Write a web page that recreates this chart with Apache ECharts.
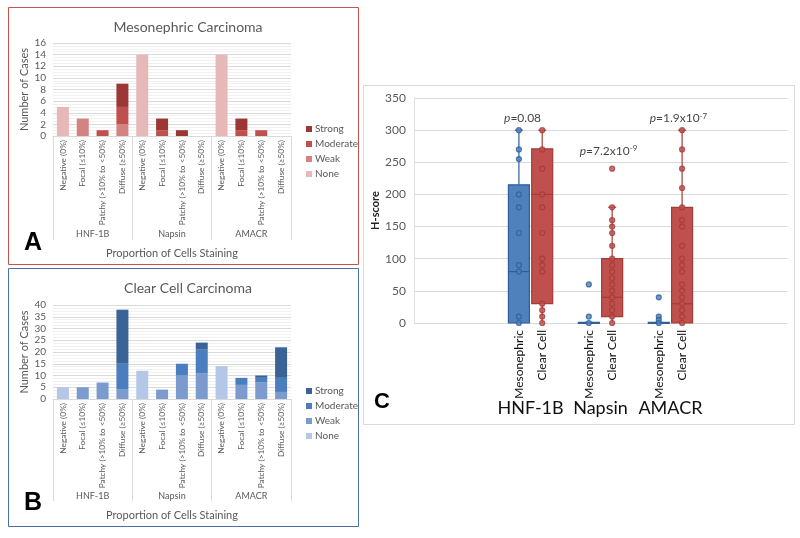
<!DOCTYPE html>
<html><head><meta charset="utf-8">
<script src="https://cdn.jsdelivr.net/npm/echarts@6/dist/echarts.min.js"></script>
<style>html,body{margin:0;padding:0;background:#fff}#c{width:800px;height:538px}</style>
</head><body><div id="c"></div><script>
// ---------- DATA ----------
const categories = ['Negative (0%)', 'Focal (≤10%)', 'Patchy (>10% to <50%)', 'Diffuse (≥50%)'];
const markers = ['HNF-1B', 'Napsin', 'AMACR'];
const levels = ['Strong', 'Moderate', 'Weak', 'None'];
const yTicksA = [0, 16, 2];   // min, max, step
const yTicksB = [0, 40, 5];
const yTicksC = [0, 350, 50];

// Panel A – Mesonephric carcinoma (12 bars: 3 markers x 4 categories)
const mesoNone     = [5, 0, 0, 0,  14, 0, 0, 0,  14, 0, 0, 0];
const mesoWeak     = [0, 3, 0, 2,   0, 0, 0, 0,   0, 0, 0, 0];
const mesoModerate = [0, 0, 1, 3,   0, 1, 0, 0,   0, 1, 1, 0];
const mesoStrong   = [0, 0, 0, 4,   0, 2, 1, 0,   0, 2, 0, 0];

// Panel B – Clear cell carcinoma
const ccNone     = [5, 0, 0, 0,  12, 0, 0, 0,  14, 0, 0, 0];
const ccWeak     = [0, 5, 7, 4,   0, 4, 10, 11,  0, 6, 7, 3];
const ccModerate = [0, 0, 0, 11,  0, 0, 5, 10,   0, 3, 2, 6];
const ccStrong   = [0, 0, 0, 23,  0, 0, 0, 3,    0, 0, 1, 13];

// Panel C – H-score box plots
const boxLabels = ['Mesonephric', 'Clear Cell'];
const boxSlots = [4, 5, 7, 8, 10, 11];      // category slots (of 16) used by the boxes
const slotCount = 16;
// [min, Q1, median, Q3, max]
const boxStats = [
  [0, 0, 80, 215, 300],
  [0, 30, 200, 271, 300],
  [0, 0, 0, 1, 1],
  [0, 10, 40, 100, 180],
  [0, 0, 0, 1, 1],
  [0, 0, 30, 180, 300]
];
const hnfMesoPts = [300, 270, 255, 200, 180, 140, 90, 80, 10, 0];
const hnfCcPts   = [300, 270, 240, 200, 180, 140, 100, 90, 80, 30, 20, 10, 0];
const napMesoPts = [60, 10, 0];
const napCcPts   = [240, 180, 160, 150, 140, 120, 100, 90, 80, 70, 60, 50, 40, 30, 20, 10, 0];
const amaMesoPts = [40, 10, 5, 0];
const amaCcPts   = [300, 270, 240, 210, 180, 160, 150, 120, 100, 90, 80, 60, 50, 40, 30, 20, 10, 0];
const pMantissa = ['0.08', '7.2x10', '1.9x10'];
const pExponent = ['', '-9', '-7'];
const pHeights  = [318, 268, 318];

// ---------- STYLE ----------
const FONT = 'Lato, "Open Sans", sans-serif';
const grey = '#595959';
const redCols  = { Strong: '#9b3735', Moderate: '#c0504d', Weak: '#d38381', None: '#e6b9b8' };
const blueCols = { Strong: '#3a6397', Moderate: '#4a7ebf', Weak: '#7b9bcf', None: '#b4c7e7' };
const boxFill = ['#4f81bd', '#c0504d'];
const boxLine = ['#2f5f9a', '#a33b38'];

const chart = echarts.init(document.getElementById('c'), null, { renderer: 'canvas' });

const catLabels12 = [].concat(categories, categories, categories);

function barPanelAxes(grid, tickLen, groupMargin) {
  return [
    { gridIndex: grid, type: 'category', data: catLabels12, position: 'bottom',
      axisLine: { lineStyle: { color: '#d9d9d9' } }, axisTick: { show: false },
      axisLabel: { interval: 0, rotate: 90, fontSize: 8.3, color: grey, margin: 4, fontFamily: FONT } },
    { gridIndex: grid, type: 'category', data: markers, position: 'bottom',
      axisLine: { show: false },
      axisTick: { show: true, length: tickLen, lineStyle: { color: '#d9d9d9' } },
      axisLabel: { fontSize: 9, color: grey, margin: groupMargin, fontFamily: FONT } ,
      name: 'Proportion of Cells Staining', nameLocation: 'middle', nameGap: groupMargin + 18,
      nameTextStyle: { fontSize: 11, color: grey, fontFamily: FONT } }
  ];
}
function barY(grid, t) {
  return { gridIndex: grid, type: 'value', min: t[0], max: t[1], interval: t[2],
    axisLabel: { fontSize: 10, color: grey, fontFamily: FONT, margin: 7 },
    axisLine: { show: false }, axisTick: { show: false },
    splitLine: { lineStyle: { color: '#d9d9d9' } },
    minorTick: { show: false, splitNumber: 4 },
    minorSplitLine: { show: true, lineStyle: { color: '#f1f1f1' } },
    name: 'Number of Cases', nameLocation: 'middle', nameGap: 23,
    nameTextStyle: { fontSize: 11, color: grey, fontFamily: FONT } };
}
function stackSeries(prefix, stack, xi, yi, arrs, cols) {
  const order = ['None', 'Weak', 'Moderate', 'Strong'];
  return order.map(l => ({
    name: prefix + l, type: 'bar', stack: stack, xAxisIndex: xi, yAxisIndex: yi,
    barWidth: 12, data: arrs[l], itemStyle: { color: cols[l] }, silent: true
  }));
}

// Panel C axes data
const cLabels = new Array(slotCount).fill('');
boxSlots.forEach((s, i) => { cLabels[s] = boxLabels[i % 2]; });
const groupPos = {};
markers.forEach((m, i) => { groupPos[(boxSlots[2 * i] + boxSlots[2 * i + 1] + 1) / 2] = m; });

const boxData = boxSlots.map((s, i) => [s].concat(boxStats[i]));
function ptsFor(slot, arr) { return arr.map(v => [slot, v]); }
const mesoPts = [].concat(ptsFor(boxSlots[0], hnfMesoPts), ptsFor(boxSlots[2], napMesoPts), ptsFor(boxSlots[4], amaMesoPts));
const ccPts = [].concat(ptsFor(boxSlots[1], hnfCcPts), ptsFor(boxSlots[3], napCcPts), ptsFor(boxSlots[5], amaCcPts));
const pLabelOffsets = [[-8, 0], [8, 0], [8, 0]];
const pData = markers.map((m, i) => ({
  value: [(boxSlots[2 * i] + boxSlots[2 * i + 1] + 1) / 2, pHeights[i]],
  label: { offset: pLabelOffsets[i],
    formatter: '{i|p}{n|=' + pMantissa[i] + '}' + (pExponent[i] ? '{s|' + pExponent[i] + '}' : '') }
}));

function renderBox(params, api) {
  const x = api.value(0);
  const pMin = api.coord([x, api.value(1)]);
  const pQ1 = api.coord([x, api.value(2)]);
  const pMed = api.coord([x, api.value(3)]);
  const pQ3 = api.coord([x, api.value(4)]);
  const pMax = api.coord([x, api.value(5)]);
  const w = api.size([1, 0])[0] * 0.9;
  const k = params.dataIndex % 2;
  const cx = pQ1[0];
  const ls = { stroke: boxLine[k], lineWidth: 1.2 };
  const cap = 4;
  return { type: 'group', children: [
    { type: 'line', shape: { x1: cx, y1: pQ3[1], x2: cx, y2: pMax[1] }, style: ls },
    { type: 'line', shape: { x1: cx - cap, y1: pMax[1], x2: cx + cap, y2: pMax[1] }, style: ls },
    { type: 'line', shape: { x1: cx, y1: pQ1[1], x2: cx, y2: pMin[1] }, style: ls },
    { type: 'rect', shape: { x: cx - w / 2, y: pQ3[1], width: w, height: Math.max(1, pQ1[1] - pQ3[1]) },
      style: { fill: boxFill[k], stroke: boxLine[k], lineWidth: 1.2 } },
    { type: 'line', shape: { x1: cx - w / 2, y1: pMed[1], x2: cx + w / 2, y2: pMed[1] }, style: ls }
  ] };
}

const option = {
  backgroundColor: '#fff',
  animation: false,
  textStyle: { fontFamily: FONT },
  title: [
    { text: 'Mesonephric Carcinoma', left: 183, top: 15, textAlign: 'center',
      textStyle: { fontSize: 14, fontWeight: 'normal', color: grey, fontFamily: FONT } },
    { text: 'Clear Cell Carcinoma', left: 183, top: 276, textAlign: 'center',
      textStyle: { fontSize: 14, fontWeight: 'normal', color: grey, fontFamily: FONT } }
  ],
  legend: [
    { data: levels.map(l => 'A_' + l), orient: 'vertical', left: 301, top: 119, icon: 'rect',
      itemWidth: 6, itemHeight: 6, itemGap: 5, formatter: n => n.slice(2), selectedMode: false,
      textStyle: { fontSize: 10, color: grey, fontFamily: FONT, padding: [0, 0, 0, -2] } },
    { data: levels.map(l => 'B_' + l), orient: 'vertical', left: 301, top: 381, icon: 'rect',
      itemWidth: 6, itemHeight: 6, itemGap: 5, formatter: n => n.slice(2), selectedMode: false,
      textStyle: { fontSize: 10, color: grey, fontFamily: FONT, padding: [0, 0, 0, -2] } }
  ],
  grid: [
    { left: 53, top: 43, width: 238, height: 93 },
    { left: 53, top: 305, width: 238, height: 94 },
    { left: 414, top: 98, width: 373, height: 225 }
  ],
  xAxis: [].concat(
    barPanelAxes(0, 104, 94),
    barPanelAxes(1, 102, 93),
    [
      { gridIndex: 2, type: 'category', data: cLabels, position: 'bottom',
        axisLine: { show: false }, axisTick: { show: false },
        axisLabel: { interval: 0, rotate: 90, fontSize: 12, color: '#111', margin: 7, fontFamily: FONT } },
      { gridIndex: 2, type: 'value', min: 0, max: slotCount, interval: 1, position: 'bottom',
        axisLine: { show: false }, axisTick: { show: false }, splitLine: { show: false },
        axisLabel: { formatter: v => groupPos[v] || '', fontSize: 18, color: '#111', margin: 76, fontFamily: FONT } }
    ]
  ),
  yAxis: [
    barY(0, yTicksA),
    barY(1, yTicksB),
    { gridIndex: 2, type: 'value', min: yTicksC[0], max: yTicksC[1], interval: yTicksC[2],
      axisLabel: { fontSize: 12, color: grey, margin: 8, fontFamily: FONT },
      axisLine: { show: true, lineStyle: { color: '#e3e3e3' } }, axisTick: { show: false },
      splitLine: { lineStyle: { color: '#d9d9d9' } },
      name: 'H-score', nameLocation: 'middle', nameGap: 31,
      nameTextStyle: { fontSize: 11, color: '#222', fontWeight: 'bold', fontFamily: FONT } }
  ],
  series: [].concat(
    stackSeries('A_', 'A', 0, 0, { None: mesoNone, Weak: mesoWeak, Moderate: mesoModerate, Strong: mesoStrong }, redCols),
    stackSeries('B_', 'B', 2, 1, { None: ccNone, Weak: ccWeak, Moderate: ccModerate, Strong: ccStrong }, blueCols),
    [
      { type: 'custom', xAxisIndex: 4, yAxisIndex: 2, renderItem: renderBox, data: boxData,
        encode: { x: 0, y: [1, 2, 3, 4, 5] }, z: 2, silent: true },
      { type: 'scatter', xAxisIndex: 4, yAxisIndex: 2, data: mesoPts, symbol: 'circle', symbolSize: 5,
        itemStyle: { color: '#4f81bd', borderColor: '#2f5f9a', borderWidth: 1.2 }, z: 5, silent: true },
      { type: 'scatter', xAxisIndex: 4, yAxisIndex: 2, data: ccPts, symbol: 'circle', symbolSize: 5,
        itemStyle: { color: '#c0504d', borderColor: '#a33b38', borderWidth: 1.2 }, z: 5, silent: true },
      { type: 'scatter', xAxisIndex: 5, yAxisIndex: 2, data: pData, symbolSize: 0, z: 6, silent: true,
        label: { show: true, position: 'inside', color: '#111', fontFamily: FONT,
          rich: { i: { fontStyle: 'italic', fontSize: 12, color: '#111', fontFamily: FONT },
                  n: { fontSize: 12, color: '#111', fontFamily: FONT },
                  s: { fontSize: 8, color: '#111', verticalAlign: 'top', fontFamily: FONT } } } }
    ]
  ),
  graphic: [
    { type: 'rect', shape: { x: 8.5, y: 7.5, width: 350, height: 257 }, style: { fill: 'none', stroke: '#c65351', lineWidth: 1 }, z: 100 },
    { type: 'rect', shape: { x: 8.5, y: 268.5, width: 350, height: 258 }, style: { fill: 'none', stroke: '#4e6fa3', lineWidth: 1 }, z: 100 },
    { type: 'rect', shape: { x: 363.5, y: 85.5, width: 431, height: 339 }, style: { fill: 'none', stroke: '#d9d9d9', lineWidth: 1 }, z: 100 },
    { type: 'text', left: 24, top: 231, style: { text: 'A', fontSize: 25, fontWeight: 'bold', fill: '#000', fontFamily: 'Liberation Sans, Arial, sans-serif' } },
    { type: 'text', left: 24, top: 491, style: { text: 'B', fontSize: 25, fontWeight: 'bold', fill: '#000', fontFamily: 'Liberation Sans, Arial, sans-serif' } },
    { type: 'text', left: 374, top: 391, style: { text: 'C', fontSize: 22, fontWeight: 'bold', fill: '#000', fontFamily: 'Liberation Sans, Arial, sans-serif' } }
  ]
};
chart.setOption(option);
</script></body></html>
